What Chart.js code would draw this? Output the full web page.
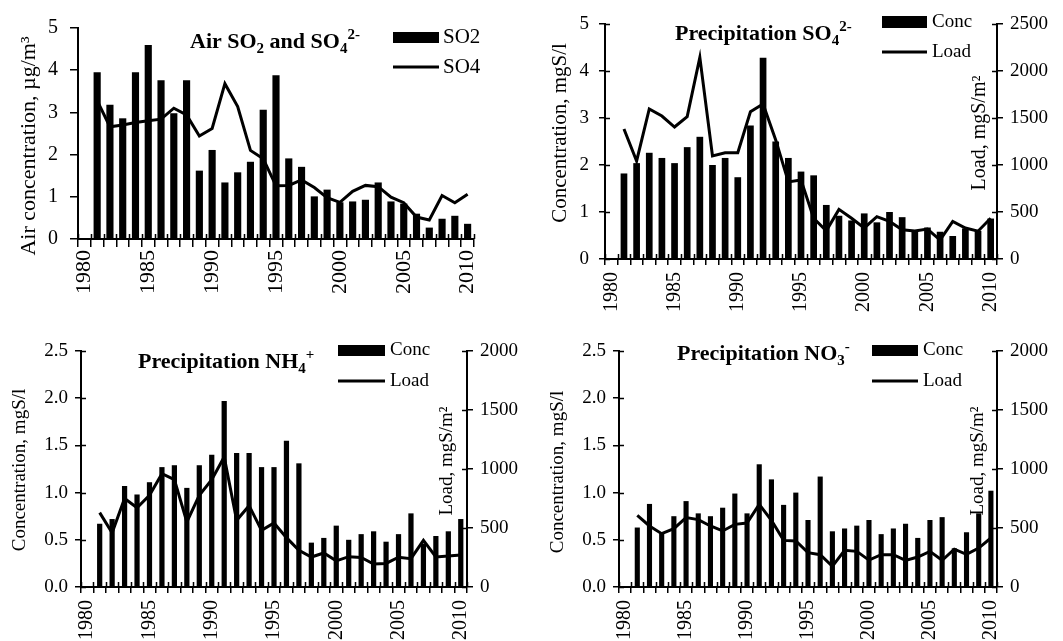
<!DOCTYPE html>
<html>
<head>
<meta charset="utf-8">
<script src="https://cdn.jsdelivr.net/npm/chart.js@4.4.0/dist/chart.umd.min.js"></script>
<style>
  html, body { margin: 0; padding: 0; background: #fff; }
  #wrap { position: relative; width: 1063px; height: 641px; overflow: hidden; }
  #wrap canvas { position: absolute; }
</style>
</head>
<body>
<div id="wrap">
  <canvas id="p1" width="530" height="320" style="left:0;top:0"></canvas>
  <canvas id="p2" width="533" height="320" style="left:530px;top:0"></canvas>
  <canvas id="p3" width="530" height="321" style="left:0;top:320px"></canvas>
  <canvas id="p4" width="533" height="321" style="left:530px;top:320px"></canvas>
</div>
<script>
// ─── Data ────────────────────────────────────────────────────────────────────
const YEARS = [1980, 1981, 1982, 1983, 1984, 1985, 1986, 1987, 1988, 1989, 1990,
  1991, 1992, 1993, 1994, 1995, 1996, 1997, 1998, 1999, 2000,
  2001, 2002, 2003, 2004, 2005, 2006, 2007, 2008, 2009, 2010];

// Air concentrations, µg/m³
const AIR_SO2 = [null, 3.95, 3.18, 2.86, 3.95, 4.6, 3.76, 2.98, 3.76, 1.62, 2.11,
  1.34, 1.58, 1.83, 3.06, 3.88, 1.91, 1.71, 1.01, 1.17, 0.87,
  0.89, 0.93, 1.34, 0.89, 0.84, 0.6, 0.27, 0.48, 0.55, 0.36];
const AIR_SO4 = [null, 3.28, 2.66, 2.7, 2.76, 2.8, 2.84, 3.1, 2.94, 2.44, 2.62,
  3.68, 3.14, 2.1, 1.9, 1.26, 1.27, 1.4, 1.22, 0.98, 0.87,
  1.13, 1.27, 1.24, 0.99, 0.86, 0.52, 0.45, 1.03, 0.86, 1.06];

// Precipitation SO4: conc mgS/l, load mgS/m²
const SO4_CONC = [null, 1.82, 2.04, 2.26, 2.15, 2.04, 2.38, 2.6, 2.0, 2.15, 1.74,
  2.84, 4.28, 2.5, 2.15, 1.86, 1.78, 1.15, 0.92, 0.82, 0.97,
  0.78, 1.0, 0.89, 0.6, 0.67, 0.58, 0.49, 0.65, 0.6, 0.86];
const SO4_LOAD = [null, 1383, 1043, 1596, 1521, 1404, 1514, 2145, 1096, 1131, 1131,
  1567, 1649, 1266, 820, 840, 433, 300, 528, 433, 330,
  450, 400, 310, 298, 318, 202, 400, 330, 296, 433];

// Precipitation NH4
const NH4_CONC = [null, 0.67, 0.72, 1.07, 0.98, 1.11, 1.27, 1.29, 1.05, 1.29, 1.4,
  1.97, 1.42, 1.42, 1.27, 1.27, 1.55, 1.31, 0.47, 0.52, 0.65,
  0.5, 0.56, 0.59, 0.48, 0.56, 0.78, 0.46, 0.54, 0.59, 0.72];
const NH4_LOAD = [null, 630, 460, 750, 672, 777, 960, 910, 551, 777, 910,
  1102, 565, 689, 480, 542, 418, 311, 254, 288, 222,
  257, 250, 195, 200, 252, 240, 395, 255, 262, 272];

// Precipitation NO3
const NO3_CONC = [null, 0.63, 0.88, 0.57, 0.75, 0.91, 0.78, 0.75, 0.84, 0.99, 0.78,
  1.3, 1.14, 0.87, 1.0, 0.71, 1.17, 0.59, 0.62, 0.65, 0.71,
  0.56, 0.62, 0.67, 0.52, 0.71, 0.74, 0.41, 0.58, 0.78, 1.02];
const NO3_LOAD = [null, 607, 517, 452, 494, 588, 571, 517, 475, 531, 542,
  700, 565, 395, 390, 291, 274, 175, 311, 302, 228,
  274, 274, 226, 254, 302, 226, 320, 277, 330, 415];

const SERIF = '"Liberation Serif", "Times New Roman", serif';
const INK = "#000";

Chart.defaults.font.family = SERIF;
Chart.defaults.color = INK;

// ─── Drawing helpers ────────────────────────────────────────────────────────
// Bold title with chemical sub/superscripts drawn as shifted smaller runs.
function drawRich(ctx, x, y, parts, size) {
  let cx = x;
  for (const [txt, mode] of parts) {
    const s = mode ? Math.round(size * 0.68) : size;
    const dy = mode === "sub" ? size * 0.22 : mode === "sup" ? -size * 0.42 : 0;
    ctx.font = `bold ${s}px ${SERIF}`;
    ctx.fillText(txt, cx, y + dy);
    cx += ctx.measureText(txt).width;
  }
}

function drawVertical(ctx, text, x, y, size) {
  ctx.save();
  ctx.translate(x, y);
  ctx.rotate(-Math.PI / 2);
  ctx.textAlign = "center";
  ctx.textBaseline = "middle";
  ctx.font = `${size}px ${SERIF}`;
  ctx.fillText(text, 0, 0);
  ctx.restore();
}

// Excel-style ticks cross the axis: Chart.js draws the outer half, this adds
// the inner half, plus the in-plot title, legend and axis titles.
const decor = {
  id: "decor",
  afterDatasetsDraw(chart, args, o) {
    const ctx = chart.ctx;
    const { left, right, bottom } = chart.chartArea;
    ctx.save();
    ctx.strokeStyle = INK;
    ctx.lineWidth = 1.5;
    ctx.beginPath();
    if (o.innerX) {
      const n = YEARS.length;
      const w = (right - left) / n;
      for (let i = 0; i <= n; i++) {
        const x = Math.round(left + i * w) + 0.5;
        ctx.moveTo(x, bottom);
        ctx.lineTo(x, bottom - o.innerX);
      }
    }
    for (const id of ["y", "y2"]) {
      const s = chart.scales[id];
      const len = id === "y" ? o.innerY : o.innerY2;
      if (!s || !len) continue;
      s.ticks.forEach((t) => {
        const y = Math.round(s.getPixelForValue(t.value)) + 0.5;
        if (id === "y") { ctx.moveTo(left, y); ctx.lineTo(left + len, y); }
        else { ctx.moveTo(right, y); ctx.lineTo(right - len, y); }
      });
    }
    ctx.stroke();
    ctx.restore();
  },
  afterDraw(chart, args, o) {
    const ctx = chart.ctx;
    ctx.save();
    ctx.fillStyle = INK;
    ctx.strokeStyle = INK;
    ctx.textAlign = "left";
    ctx.textBaseline = "alphabetic";
    drawRich(ctx, o.title.x, o.title.y, o.title.parts, o.title.size);

    const lg = o.legend;
    ctx.fillRect(lg.x, lg.barY, lg.w, lg.h);
    ctx.lineWidth = 3;
    ctx.beginPath();
    ctx.moveTo(lg.x, lg.lineY);
    ctx.lineTo(lg.x + lg.w, lg.lineY);
    ctx.stroke();
    ctx.font = `${lg.size}px ${SERIF}`;
    ctx.textBaseline = "middle";
    ctx.fillText(lg.labels[0], lg.textX, lg.barY + lg.h / 2);
    ctx.fillText(lg.labels[1], lg.textX, lg.lineY);

    for (const t of o.axisTitles) drawVertical(ctx, t.text, t.x, t.y, t.size);
    ctx.restore();
  },
};

// ─── Scale builders ─────────────────────────────────────────────────────────
function xScale(fontSize, pad, tickLen, height) {
  return {
    type: "category",
    offset: true,
    grid: { offset: true, drawOnChartArea: false, tickLength: tickLen, color: INK, lineWidth: 1.5 },
    border: { color: INK, width: 2 },
    ticks: {
      autoSkip: false,
      minRotation: 90,
      maxRotation: 90,
      padding: pad,
      color: INK,
      font: { family: SERIF, size: fontSize },
      callback: (v, i) => (YEARS[i] % 5 === 0 ? String(YEARS[i]) : ""),
    },
    afterFit: (s) => { s.height = height; },
  };
}

function yScale(position, max, step, decimals, fontSize, pad, tickLen, width) {
  return {
    type: "linear",
    position,
    min: 0,
    max,
    grid: { drawOnChartArea: false, tickLength: tickLen, color: INK, lineWidth: 1.5 },
    border: { color: INK, width: 2 },
    ticks: {
      stepSize: step,
      padding: pad,
      color: INK,
      font: { family: SERIF, size: fontSize },
      callback: (v) => Number(v).toFixed(decimals),
    },
    afterFit: (s) => { s.width = width; },
  };
}

function makePanel(id, p) {
  const lineAxis = p.y2 ? "y2" : "y";
  const scales = { x: p.x, y: p.y };
  if (p.y2) scales.y2 = p.y2;
  return new Chart(document.getElementById(id), {
    type: "bar",
    data: {
      labels: YEARS,
      datasets: [
        {
          type: "line",
          label: p.legend.labels[1],
          data: p.lineData,
          yAxisID: lineAxis,
          borderColor: INK,
          borderWidth: 3,
          pointRadius: 0,
          tension: 0,
          fill: false,
          order: 0,
        },
        {
          type: "bar",
          label: p.legend.labels[0],
          data: p.barData,
          yAxisID: "y",
          backgroundColor: INK,
          borderWidth: 0,
          categoryPercentage: 1,
          barPercentage: p.barPct,
          order: 1,
        },
      ],
    },
    options: {
      responsive: false,
      animation: false,
      layout: { padding: p.padding },
      scales,
      plugins: {
        legend: { display: false },
        tooltip: { enabled: false },
        decor: {
          title: p.title,
          legend: p.legend,
          axisTitles: p.axisTitles,
          innerX: p.innerX,
          innerY: p.innerY,
          innerY2: p.innerY2,
        },
      },
    },
    plugins: [decor],
  });
}

// ─── Panels ─────────────────────────────────────────────────────────────────
makePanel("p1", {
  barData: AIR_SO2,
  lineData: AIR_SO4,
  barPct: 0.56,
  padding: { left: 0, right: 56, top: 28, bottom: 0 },
  x: xScale(22, 3, 8, 81),
  y: yScale("left", 5, 1, 0, 20, 12, 8, 78),
  innerX: 5, innerY: 0,
  title: { x: 190, y: 48, size: 22, parts: [["Air SO", ""], ["2", "sub"], [" and SO", ""], ["4", "sub"], ["2-", "sup"]] },
  legend: { x: 393, w: 46, barY: 32, h: 11, lineY: 67, textX: 443, size: 21, labels: ["SO2", "SO4"] },
  axisTitles: [{ text: "Air concentration, µg/m³", x: 29, y: 146, size: 22 }],
});

makePanel("p2", {
  barData: SO4_CONC,
  lineData: SO4_LOAD,
  barPct: 0.53,
  padding: { left: 0, right: 0, top: 24, bottom: 0 },
  x: xScale(20, 7, 6, 61),
  y: yScale("left", 5, 1, 0, 19, 10, 6, 75),
  y2: yScale("right", 2500, 500, 0, 19, 7, 6, 66),
  innerX: 5, innerY: 5, innerY2: 5,
  title: { x: 145, y: 40, size: 22, parts: [["Precipitation SO", ""], ["4", "sub"], ["2-", "sup"]] },
  legend: { x: 352, w: 45, barY: 16, h: 12, lineY: 52, textX: 402, size: 19, labels: ["Conc", "Load"] },
  axisTitles: [
    { text: "Concentration, mgS/l", x: 30, y: 133, size: 21 },
    { text: "Load, mgS/m²", x: 450, y: 133, size: 20 },
  ],
});

makePanel("p3", {
  barData: NH4_CONC,
  lineData: NH4_LOAD,
  barPct: 0.42,
  padding: { left: 0, right: 0, top: 31, bottom: 0 },
  x: xScale(20, 7, 6, 54),
  y: yScale("left", 2.5, 0.5, 1, 19, 7, 6, 81),
  y2: yScale("right", 2000, 500, 0, 19, 7, 6, 63),
  innerX: 5, innerY: 5, innerY2: 5,
  title: { x: 138, y: 48, size: 22, parts: [["Precipitation NH", ""], ["4", "sub"], ["+", "sup"]] },
  legend: { x: 338, w: 47, barY: 25, h: 11, lineY: 61, textX: 390, size: 19, labels: ["Conc", "Load"] },
  axisTitles: [
    { text: "Concentration, mgS/l", x: 20, y: 150, size: 19 },
    { text: "Load, mgS/m²", x: 447, y: 141, size: 19 },
  ],
});

makePanel("p4", {
  barData: NO3_CONC,
  lineData: NO3_LOAD,
  barPct: 0.42,
  padding: { left: 0, right: 0, top: 31, bottom: 0 },
  x: xScale(20, 7, 6, 54),
  y: yScale("left", 2.5, 0.5, 1, 19, 7, 6, 89),
  y2: yScale("right", 2000, 500, 0, 19, 7, 6, 66),
  innerX: 5, innerY: 5, innerY2: 5,
  title: { x: 147, y: 40, size: 22, parts: [["Precipitation NO", ""], ["3", "sub"], ["-", "sup"]] },
  legend: { x: 342, w: 46, barY: 25, h: 11, lineY: 61, textX: 393, size: 19, labels: ["Conc", "Load"] },
  axisTitles: [
    { text: "Concentration, mgS/l", x: 28, y: 152, size: 19 },
    { text: "Load, mgS/m²", x: 448, y: 141, size: 19 },
  ],
});
</script>
</body>
</html>
